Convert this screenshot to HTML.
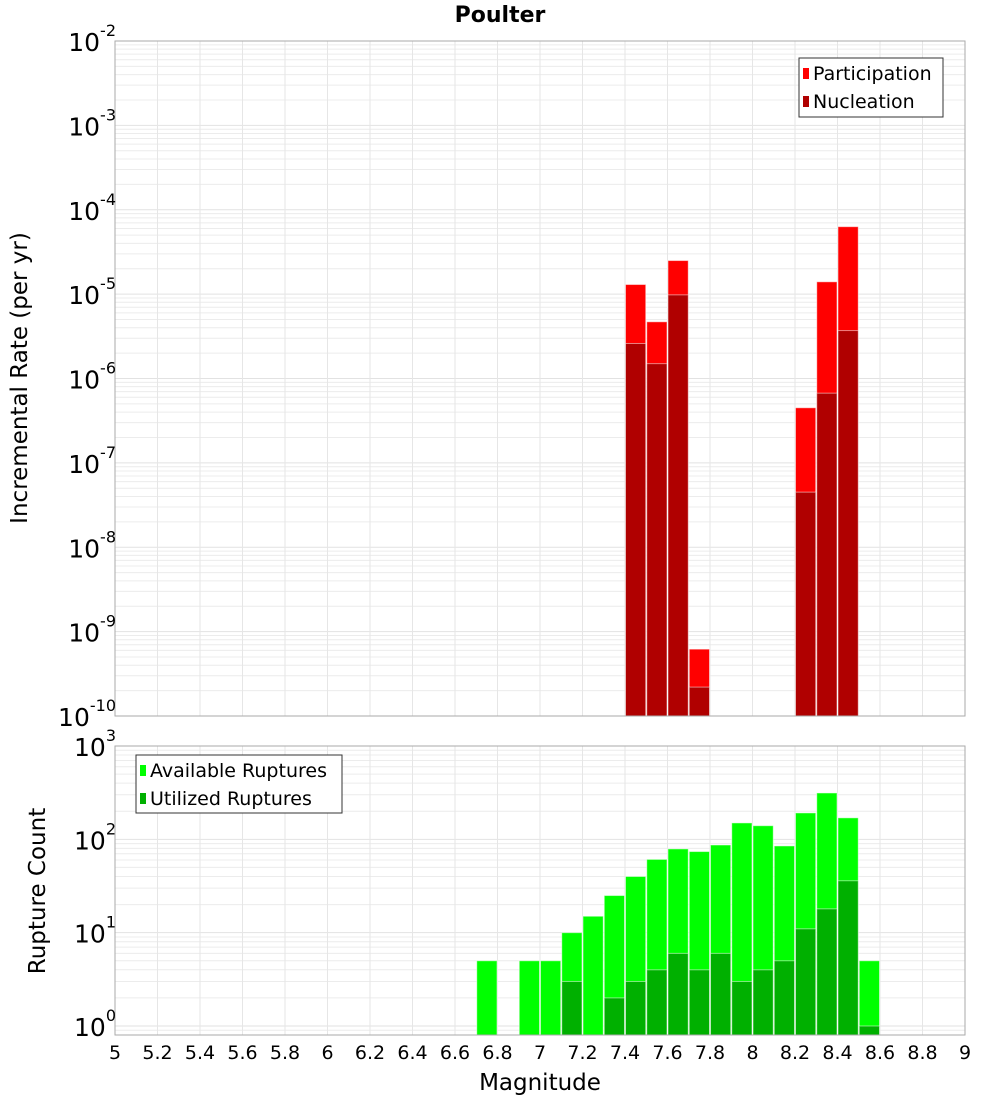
<!DOCTYPE html>
<html><head><meta charset="utf-8"><style>
body{margin:0;background:#fff;}
svg{display:block;font-family:"DejaVu Sans","Liberation Sans",sans-serif;}
</style></head><body>
<svg id="chart" width="1000" height="1100" xmlns="http://www.w3.org/2000/svg">
<text x="500" y="22" text-anchor="middle" font-size="22" font-weight="bold">Poulter</text>
<g id="topPlot"></g>
<g id="botPlot"></g>
</svg>
<script>
const binStarts = [7.4, 7.5, 7.6, 7.7, 8.2, 8.3, 8.4];
const participation = [1.3e-5, 4.7e-6, 2.5e-5, 6.2e-10, 4.5e-7, 1.4e-5, 6.3e-5];
const nucleation = [2.6e-6, 1.5e-6, 9.8e-6, 2.2e-10, 4.5e-8, 6.7e-7, 3.7e-6];
const countBins = [6.7, 6.9, 7.0, 7.1, 7.2, 7.3, 7.4, 7.5, 7.6, 7.7, 7.8, 7.9, 8.0, 8.1, 8.2, 8.3, 8.4, 8.5];
const available = [5, 5, 5, 10, 15, 25, 40, 61, 79, 74, 87, 150, 140, 85, 192, 314, 170, 5];
const utilized = [0, 0, 0, 3, 0, 2, 3, 4, 6, 4, 6, 3, 4, 5, 11, 18, 36, 1];
const xTicks = [5,5.2,5.4,5.6,5.8,6,6.2,6.4,6.6,6.8,7,7.2,7.4,7.6,7.8,8,8.2,8.4,8.6,8.8,9];
const topExps = [-2,-3,-4,-5,-6,-7,-8,-9,-10];
const botExps = [3,2,1,0];

const NS="http://www.w3.org/2000/svg";
const X0=115,X1=965;
const xs=m=>X0+(m-5)/4*(X1-X0);
const T0=41,T1=716, yT=v=>T0+(-2-Math.log10(v))*(T1-T0)/8;
const B0=746,B1=1035, yB=v=>1026-Math.log10(v)*93.33;
function el(p,tag,a){const e=document.createElementNS(NS,tag);for(const k in a)e.setAttribute(k,a[k]);p.appendChild(e);return e;}
const topG=document.getElementById('topPlot'), botG=document.getElementById('botPlot');

function grid(g,y0,y1,yf,eLo,eHi){
  for(let e=eLo;e<eHi;e++)for(let k=1;k<10;k++){const y=yf(k*Math.pow(10,e));if(y>=y0&&y<=y1){const l=el(g,'line',{x1:X0,x2:X1,y1:y,y2:y,stroke:k==1?'#e2e2e2':'#ececec','stroke-width':1});

}}
  xTicks.forEach(t=>{const l=el(g,'line',{x1:xs(t),x2:xs(t),y1:y0,y2:y1,stroke:'#e6e6e6','stroke-width':1});

});
}
grid(topG,T0,T1,yT,-10,-2);
grid(botG,B0,B1,yB,-1,3);

function bar(g,m,v,color,yf,base,name){
  const x=xs(m),w=xs(m+0.1)-x,y=yf(v);
  const r=el(g,'rect',{x:x+0.5,y:y,width:w-1,height:base-y,fill:color,stroke:'rgba(255,255,255,0.5)','stroke-width':1});
  
  
}
binStarts.forEach((m,i)=>{bar(topG,m,participation[i],'#ff0000',yT,T1,'participation-bar');});
binStarts.forEach((m,i)=>{bar(topG,m,nucleation[i],'#b00000',yT,T1,'nucleation-bar');});
countBins.forEach((m,i)=>{if(available[i]>0)bar(botG,m,available[i],'#00ff00',yB,B1,'available-bar');});
countBins.forEach((m,i)=>{if(utilized[i]>0)bar(botG,m,utilized[i],'#00b000',yB,B1,'utilized-bar');});

[[T0,T1],[B0,B1]].forEach(([a,b],i)=>{const r=el(i?botG:topG,'rect',{x:X0,y:a,width:X1-X0,height:b-a,fill:'none',stroke:'#aaa','stroke-width':1});

});

function ylab(g,y,e){const t=el(g,'text',{x:116,y:y+10,'text-anchor':'end','font-size':25});


t.textContent='10';const s=el(t,'tspan',{dy:-15,'font-size':16});s.textContent=e;}
topExps.forEach(e=>ylab(topG,yT(Math.pow(10,e)),e));
botExps.forEach(e=>ylab(botG,yB(Math.pow(10,e)),e));
xTicks.forEach(t=>{const s=el(botG,'text',{x:xs(t),y:1059,'text-anchor':'middle','font-size':19});


s.textContent=String(t);});

function txt(g,a,s,name){const t=el(g,'text',a);t.textContent=s;

return t;}
txt(botG,{x:540,y:1090,'text-anchor':'middle','font-size':23},'Magnitude','x-axis-title');
txt(topG,{x:27,y:378,'text-anchor':'middle','font-size':23,transform:'rotate(-90 27 378)'},'Incremental Rate (per yr)','top-y-axis-title');
txt(botG,{x:45,y:891,'text-anchor':'middle','font-size':23,transform:'rotate(-90 45 891)'},'Rupture Count','bottom-y-axis-title');

function legend(g,x,y,w,h,items,name){
  const lg=el(g,'g',{});


  el(lg,'rect',{x:x,y:y,width:w,height:h,fill:'#fff',stroke:'#333','stroke-width':1});
  items.forEach((it,i)=>{const cy=y+15+i*28;
    el(lg,'rect',{x:x+4,y:cy-5,width:6,height:11,fill:it[1]});
    txt(lg,{x:x+14,y:cy+7,'font-size':19},it[0],'legend-entry');});
}
legend(topG,799,58,144,59,[['Participation','#ff0000'],['Nucleation','#b00000']],'rate-legend');
legend(botG,136,755,206,58,[['Available Ruptures','#00ff00'],['Utilized Ruptures','#00b000']],'count-legend');
</script>
</body></html>
